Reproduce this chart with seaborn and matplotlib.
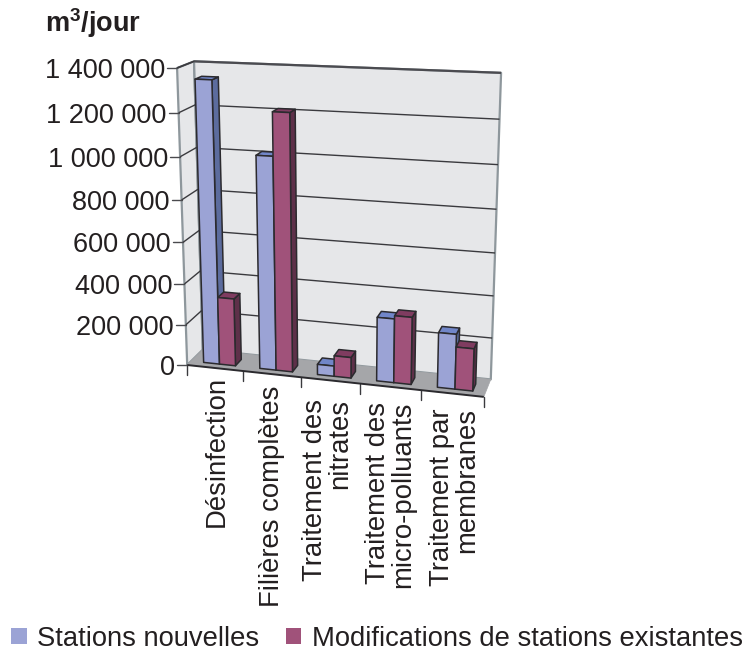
import numpy as np
import matplotlib
matplotlib.use("Agg")
import matplotlib.pyplot as plt
from matplotlib.patches import Polygon, Patch
import seaborn as sns

categories = ["Désinfection", "Filières complètes", "Traitement des\nnitrates",
              "Traitement des\nmicro-polluants", "Traitement par\nmembranes"]
series_names = ["Stations nouvelles", "Modifications de stations existantes"]
stations_nouvelles = [1345000, 1015000, 50000, 305000, 260000]
modifications = [330000, 1215000, 100000, 320000, 200000]
tick_values = [0, 200000, 400000, 600000, 800000, 1000000, 1200000, 1400000]
tick_labels = ["0", "200 000", "400 000", "600 000", "800 000", "1 000 000", "1 200 000", "1 400 000"]

sns.set_theme(style="white")
plt.rcParams["font.family"] = ["Liberation Sans", "DejaVu Sans"]
plt.rcParams["mathtext.fontset"] = "custom"
plt.rcParams["mathtext.bf"] = "Liberation Sans:bold"
plt.rcParams["mathtext.rm"] = "Liberation Sans"

# Camera: (category, value, depth) -> canvas position, solved from reference points of the box
camera_points = [
    (0, 0, 0, 188, 365), (1, 0, 0, 243, 371), (2, 0, 0, 301, 377.5), (3, 0, 0, 361, 384),
    (4, 0, 0, 421, 391), (5, 0, 0, 483, 397), (0, 0, 1, 203, 350), (5, 0, 1, 489, 379),
    (0, 1.4e6, 0, 177, 67), (0, 1.4e6, 1, 193, 62), (5, 1.4e6, 1, 501, 73),
    (0, 2e5, 0, 185, 324), (0, 1e6, 0, 180, 157), (0, 1.2e6, 0, 180, 113),
    (5, 2e5, 1, 494, 337), (5, 4e5, 1, 495, 296), (5, 1e6, 1, 498, 165), (5, 1.2e6, 1, 499, 119),
]
rows = []
for cx, cv, cz, px, py in camera_points:
    X = [cx, cv / 1e6, cz, 1]
    u, w = px / 500, py / 500
    rows.append(X + [0, 0, 0, 0] + [-u * c for c in X])
    rows.append([0, 0, 0, 0] + X + [-w * c for c in X])
P = np.linalg.svd(np.array(rows))[2][-1].reshape(3, 4)


def project(x, v, z):
    h = P @ np.array([x, v / 1e6, z, 1.0])
    return h[0] / h[2] * 500, h[1] / h[2] * 500


fig = plt.figure(figsize=(7.55, 6.52), dpi=100)
ax = fig.add_axes([0, 0, 1, 1])
ax.set_xlim(0, 755)
ax.set_ylim(652, 0)
ax.axis("off")

wall_color = "#e6e7e9"
floor_color = "#a5a6a9"
edge_wall = "#8e979c"
ink = "#2b2a2e"
text_color = "#231f20"
top_v = tick_values[-1]
n = len(categories)


def face(points, fc, ec=ink, lw=1.1, z=2):
    ax.add_patch(Polygon([project(*p) for p in points], closed=True, fc=fc, ec=ec, lw=lw, zorder=z, joinstyle="round"))


def seg(a, b, color=ink, lw=1.1, z=1.5):
    pa, pb = project(*a), project(*b)
    ax.plot([pa[0], pb[0]], [pa[1], pb[1]], color=color, lw=lw, zorder=z, solid_capstyle="butt")


# Walls and floor
face([(0, 0, 0), (0, top_v, 0), (0, top_v, 1), (0, 0, 1)], wall_color, edge_wall, 1.6, 1)
face([(0, 0, 1), (0, top_v, 1), (n, top_v, 1), (n, 0, 1)], wall_color, edge_wall, 1.6, 1)
seg((0, top_v, 1), (n, top_v, 1), "#4b4b50", 1.6)
seg((0, top_v, 0), (0, top_v, 1), "#4b4b50", 1.2)
face([(0, 0, 0), (n, 0, 0), (n, 0, 1), (0, 0, 1)], floor_color, floor_color, 0.5, 1.6)
seg((0, 0, 0), (n, 0, 0), ink, 1.4, 1.7)

# Grid lines, value ticks and labels
for value, label in zip(tick_values, tick_labels):
    if value:
        seg((0, value, 0), (0, value, 1), "#3a3a3e", 1.0)
        if value != top_v:
            seg((0, value, 1), (n, value, 1), "#3a3a3e", 1.0)
    tx, ty = project(0, value, 0)
    ax.plot([tx - 10, tx], [ty, ty], color="#4a4a4e", lw=1.0, zorder=1.5)
    ax.text(tx - 12, ty + 3, label, ha="right", va="center", fontsize=19.5, color=text_color)

# Category ticks and rotated labels
for i in range(n + 1):
    tx, ty = project(i, 0, 0)
    ax.plot([tx, tx], [ty, ty + 10], color="#3a3a3e", lw=1.0, zorder=1.5)
label_dx = [2, 0, -3, 0, 2]
label_dy = [8, 11, 19, 15, 15]
for i, label in enumerate(categories):
    tx, ty = project(i + 0.5, 0, 0)
    ax.text(tx + label_dx[i], ty + label_dy[i], label, rotation=90, ha="center", va="top", multialignment="right",
            fontsize=19.8, color=text_color, linespacing=0.97)

# Bars: sides and tops are shaded from each series' front colour
palette = {
    series_names[0]: ("#9ba3d5", "#7186c8", "#5c6c9e"),
    series_names[1]: ("#a0527a", "#7f3c60", "#5e3049"),
}
gap, bar_w = 0.225, 0.285
z0, z1 = 0.25, 0.65
for i in range(n):
    for j, (name, vals) in enumerate(zip(series_names, [stations_nouvelles, modifications])):
        front, top, side = palette[name]
        x0 = i + gap + j * bar_w
        x1 = x0 + bar_w
        v = vals[i]
        order = 3 + i + 0.1 * j
        face([(x1, 0, z0), (x1, v, z0), (x1, v, z1), (x1, 0, z1)], side, z=order)
        face([(x0, v, z0), (x1, v, z0), (x1, v, z1), (x0, v, z1)], top, z=order + 0.01)
        face([(x0, 0, z0), (x1, 0, z0), (x1, v, z0), (x0, v, z0)], front, z=order + 0.02)

# Unit caption
ax.text(45, 32, r"$\mathbf{m^3}$/jour", fontsize=19.5, fontweight="bold", color=text_color, ha="left", va="baseline")

# Legend along the bottom
handles = [Patch(fc=palette[s][0], ec="none", label=s) for s in series_names]
ax.legend(handles=handles, loc="lower left", bbox_to_anchor=(6 / 755, 1 - 657 / 652), ncol=2, frameon=False,
          fontsize=19.7, handlelength=0.55, handleheight=0.55, handletextpad=0.4, columnspacing=0.95,
          labelcolor=text_color, borderaxespad=0, borderpad=0.2)

fig.savefig("out.png", dpi=100)
